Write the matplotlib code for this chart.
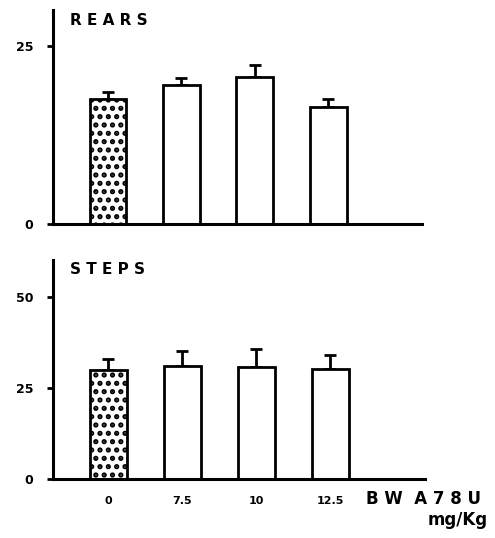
import numpy as np
import matplotlib.pyplot as plt

doses = ['0', '7.5', '10', '12.5']
rears = [17.6, 19.5, 20.7, 16.5]
rears_err = [1.0, 1.0, 1.6, 1.1]
steps = [29.9, 31.0, 30.7, 30.1]
steps_err = [3.0, 4.2, 5.0, 3.8]

plt.rcParams['hatch.linewidth'] = 2.5

fig = plt.figure(figsize=(4.95, 5.38), dpi=100)
ax1 = fig.add_axes([0.107, 0.5836, 0.746, 0.397])
ax2 = fig.add_axes([0.107, 0.1097, 0.752, 0.407])


def panel(ax, vals, err, ymax, yticks, title):
    x = np.arange(len(vals))
    hatches = ['..', '', '', '']
    for i in x:
        ax.bar(i, vals[i], width=0.5, color='white', edgecolor='black',
               linewidth=2, hatch=hatches[i], zorder=2)
    ax.errorbar(x, vals, yerr=[np.zeros(len(err)), err], fmt='none',
                ecolor='black', elinewidth=2, capsize=4, capthick=2, zorder=1)
    ax.set_xlim(-0.75, 4.28)
    ax.set_ylim(0, ymax)
    ax.set_yticks(yticks)
    ax.set_yticklabels([str(t) for t in yticks], fontweight='bold', fontsize=9)
    ax.tick_params(axis='y', length=4, width=2, pad=10)
    ax.tick_params(axis='x', length=0)
    ax.set_xticks([])
    for s in ['top', 'right']:
        ax.spines[s].set_visible(False)
    for s in ['left', 'bottom']:
        ax.spines[s].set_linewidth(2.2)
    ax.text(0.045, 0.99, title, transform=ax.transAxes, fontsize=11,
            fontweight='bold', va='top', ha='left')


panel(ax1, rears, rears_err, 30, [0, 25], 'R E A R S')
panel(ax2, steps, steps_err, 60, [0, 25, 50], 'S T E P S')

ax2.set_xticks(np.arange(len(doses)))
ax2.set_xticklabels(doses, fontsize=8, fontweight='bold')
ax2.tick_params(axis='x', length=0, pad=12)

fig.text(0.74, 0.073, 'B W  A 7 8 U', fontsize=12, fontweight='bold',
         ha='left', va='center')
fig.text(0.985, 0.034, 'mg/Kg', fontsize=12, fontweight='bold',
         ha='right', va='center')

fig.savefig('out.png', dpi=100)
